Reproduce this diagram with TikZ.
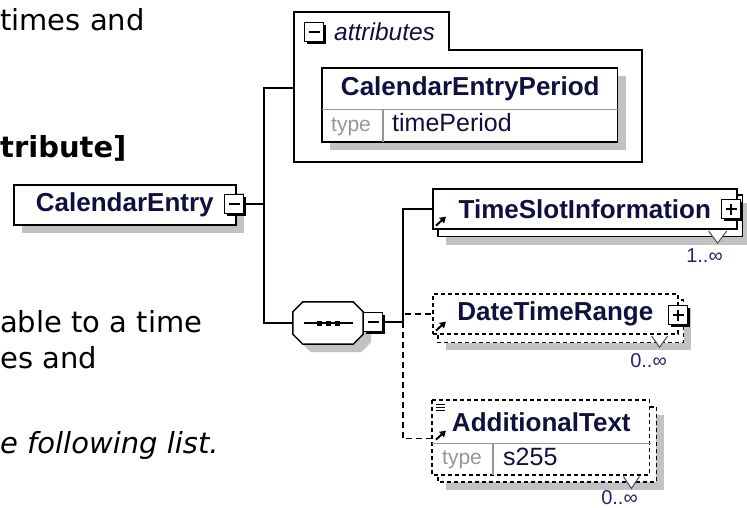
\documentclass[tikz,border=0pt]{standalone}
\usepackage{fontspec}
\setmainfont{DejaVu Sans}
\newfontfamily\diagfont{Liberation Sans}
\usepackage{xcolor}
\usepackage{tikz}
\usetikzlibrary{calc}
\usetikzlibrary{shadows,backgrounds}
\usetikzlibrary{arrows.meta}
\definecolor{namecol}{RGB}{16,16,64}
\definecolor{multcol}{RGB}{48,32,104}
\definecolor{keycol}{RGB}{150,150,150}
\definecolor{shadowgray}{RGB}{194,194,194}
\newcommand{\bodyfont}{\fontsize{29}{36}\selectfont}
\newcommand{\namefont}{\diagfont\bfseries\fontsize{26}{30}\selectfont}

\tikzset{
  boxline/.style={line width=1.6pt},
  optline/.style={boxline, dash pattern=on 4pt off 3pt},
  elem/.style={draw, boxline, fill=white, anchor=north west, inner sep=0pt,
    font=\namefont, text=namecol},
  optelem/.style={elem, optline},
  shadowfill/.style={fill=shadowgray, draw=none},
  flatshadow/.style={drop shadow={shadow xshift=8pt, shadow yshift=-8pt,
    fill=shadowgray, opacity=1}},
  gridline/.style={draw=keycol, line width=1.2pt},
  link/.style={line width=1.5pt},
  optlink/.style={link, dash pattern=on 6pt off 4pt},
  toggle/.style={draw, line width=1.3pt, fill=white, minimum size=19pt, inner sep=0pt,
    drop shadow={shadow xshift=2.5pt, shadow yshift=-2.5pt, fill=black, opacity=1}},
  minusicon/.style={toggle, path picture={
    \draw[line width=1.3pt] ([xshift=4pt]path picture bounding box.west)
      -- ([xshift=-4pt]path picture bounding box.east);}},
  plusicon/.style={toggle, path picture={
    \draw[line width=1.3pt] ([xshift=4pt]path picture bounding box.west)
      -- ([xshift=-4pt]path picture bounding box.east);
    \draw[line width=1.3pt] ([yshift=-4pt]path picture bounding box.north)
      -- ([yshift=4pt]path picture bounding box.south);}},
  seqbox/.style={inner sep=0pt, minimum width=70pt, minimum height=42pt},
  bodytext/.style={anchor=base west, inner sep=0pt, font=\bodyfont},
  keytext/.style={anchor=base west, inner sep=0pt,
    font=\diagfont\fontsize{21}{24}\selectfont, text=keycol},
  valtext/.style={anchor=base west, inner sep=0pt,
    font=\diagfont\fontsize{25}{28}\selectfont, text=namecol},
  multtext/.style={anchor=base east, inner sep=0pt,
    font=\diagfont\fontsize{20}{22}\selectfont, text=multcol},
  refarrow/.style={line width=2pt, -{Triangle[length=6pt, width=7pt]}},
  notch/.style={draw=black!70, fill=white, line width=1pt}
}

\begin{document}
\begin{tikzpicture}[x=1pt,y=-1pt]
  \useasboundingbox (0,0) rectangle (747,507);
  % page text round the diagram
  \node[bodytext] (introA) at (0,30) {times and};
  \node[bodytext, font=\bodyfont\bfseries] (introB) at (0,157) {tribute]};
  \node[bodytext] (descA) at (0,332) {able to a time};
  \node[bodytext] (descB) at (0,368) {es and};
  \node[bodytext, font=\bodyfont\itshape] (descC) at (0,453) {e following list.};

  % root element
  \node[elem, flatshadow, minimum width=222pt, minimum height=40pt] (calEntry) at (13,184) {CalendarEntry};
  \node[minusicon] (ceToggle) at (234,204) {};

  % attribute group
  \draw[boxline] (294,12) -- (449,12) -- (449,50) -- (642,50) -- (642,162) -- (294,162) -- cycle;
  \coordinate (attrIn) at (294,88);
  \node[minusicon] (attrToggle) at (314,32) {};
  \node[anchor=base west, inner sep=0pt, font=\diagfont\itshape\fontsize{24.5}{28}\selectfont,
    text=namecol] (attrLabel) at (334,40) {attributes};
  \node[elem, draw=none, fill=none, minimum width=295pt, minimum height=40pt] (cep) at (322,68) {CalendarEntryPeriod};
  \node[anchor=north west, inner sep=0pt, minimum width=295pt, minimum height=32pt] (cepRow) at (cep.south west) {};
  \draw[gridline] (cep.south west) -- (cep.south east);
  \draw[gridline] ($(cepRow.north west)+(61,0)$) -- ($(cepRow.south west)+(61,0)$);
  \node[keytext] (cepKey) at (331,131) {type};
  \node[valtext] (cepVal) at (392,131) {timePeriod};

  % sequence
  \node[seqbox] (seq) at (328,323) {};
  \filldraw[link, fill=white, flatshadow] ($(seq.north west)+(10,0)$) -- ($(seq.north east)+(-10,0)$)
    -- ($(seq.north east)+(0,10)$) -- ($(seq.south east)+(0,-10)$) -- ($(seq.south east)+(-10,0)$)
    -- ($(seq.south west)+(10,0)$) -- ($(seq.south west)+(0,-10)$) -- ($(seq.north west)+(0,10)$) -- cycle;
  \draw[link] ($(seq.center)+(-24,0)$) -- ($(seq.center)+(25,0)$);
  \foreach \dx in {-9,0,9}
    \fill ($(seq.center)+(\dx,0)+(-2.5,-2.5)$) rectangle ++(5,5);
  \node[minusicon] (seqToggle) at (373,322) {};

  % children
  \node[elem, minimum width=304pt, minimum height=40pt] (tsi) at (432,188) {TimeSlotInformation};
  \node[plusicon] (tsiToggle) at (731,209) {};
  \node[optelem, minimum width=245pt, minimum height=40pt] (dtr) at (432,293) {DateTimeRange};
  \node[plusicon] (dtrToggle) at (678,315) {};
  \node[optelem, draw=none, fill=none, minimum width=217pt, minimum height=42pt] (addText) at (432,400) {AdditionalText};
  \node[anchor=north west, inner sep=0pt, minimum width=217pt, minimum height=31pt] (addRow) at (addText.south west) {};
  \draw[gridline] (addText.south west) -- (addText.south east);
  \draw[gridline] ($(addRow.north west)+(61,0)$) -- ($(addRow.south west)+(61,0)$);
  \node[keytext] (addKey) at (442,464) {type};
  \node[valtext] (addVal) at (503,465) {s255};
  \foreach \dy in {4,7,10}
    \draw[line width=1pt] ($(addText.north west)+(4,\dy)$) -- ++(9,0);
  \foreach \n in {tsi,dtr,addText}
    \draw[refarrow] ($(\n.south west)+(4,-4)$) -- ++(10,-9);

  % occurrence marks
  \filldraw[notch] ($(tsi.south east)+(-29,1.5)$) -- ++(9,12) -- ++(9,-12);
  \filldraw[notch] ($(dtr.south east)+(-27,1.5)$) -- ++(8,11) -- ++(8,-11);
  \filldraw[notch] ($(addRow.south east)+(-26,1.5)$) -- ++(8,12) -- ++(8,-12);
  \node[multtext] (tsiMult) at (723,262) {1..∞};
  \node[multtext] (dtrMult) at (667,367) {0..∞};
  \node[multtext] (addMult) at (638,504) {0..∞};

  % connectors
  \coordinate (rootJoin) at (264,204);
  \coordinate (choiceJoin) at (403,322);
  \coordinate (addIn) at ($(addText.south west)+(0,-5)$);
  \draw[link] (ceToggle.east) -- (rootJoin);
  \draw[link] (attrIn) -- (rootJoin |- attrIn) -- (rootJoin |- seq.west) -- (seq.west);
  \draw[link] (seqToggle.east) -- (choiceJoin);
  \draw[link] (choiceJoin) -- (choiceJoin |- tsi.west) -- (tsi.west);
  \draw[optlink] (choiceJoin) -- (choiceJoin |- addIn) -- (addIn);
  \draw[optlink] ($(choiceJoin |- dtr.west)+(2,0)$) -- (dtr.west);

  % outlines, copies and shadows behind
  \begin{scope}[on background layer]
    \fill[shadowfill] ($(cep.north west)+(8,8)$) rectangle ($(cepRow.south east)+(9,8)$);
    \draw[boxline, fill=white] (cep.north west) rectangle (cepRow.south east);
    \foreach \n in {tsi,dtr}
      \fill[shadowfill] ($(\n.north west)+(14,15)$) rectangle ($(\n.south east)+(12,15)$);
    \fill[shadowfill] ($(addText.north west)+(14,15)$) rectangle ($(addRow.south east)+(15,15)$);
    \draw[boxline, fill=white] ($(tsi.north west)+(6,7)$) rectangle ($(tsi.south east)+(5,7)$);
    \draw[optline, fill=white] ($(dtr.north west)+(6,7)$) rectangle ($(dtr.south east)+(5,8)$);
    \draw[optline, fill=white] ($(addText.north west)+(6,7)$) rectangle ($(addRow.south east)+(7,7)$);
    \draw[optline, fill=white] (addText.north west) rectangle (addRow.south east);
  \end{scope}
\end{tikzpicture}
\end{document}
